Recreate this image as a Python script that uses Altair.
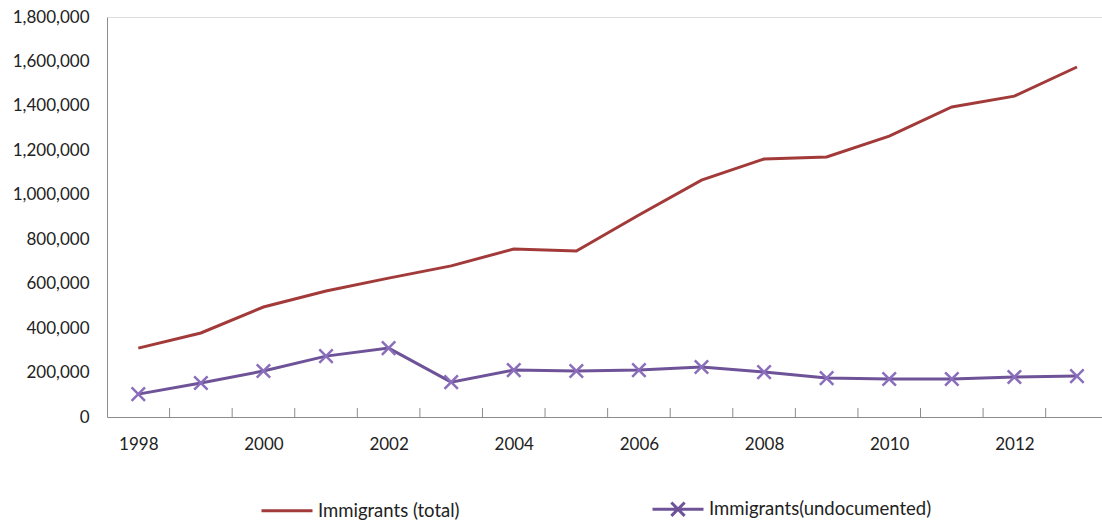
import altair as alt
import pandas as pd

# Yearly immigrant counts, 1998-2013
years = list(range(1998, 2014))
total = [310000, 378000, 495000, 567000, 625000, 680000, 756000, 747000,
         909000, 1066000, 1161000, 1170000, 1264000, 1395000, 1444000, 1575000]
undocumented = [103000, 153000, 207000, 274000, 310000, 157000, 211000, 207000,
                211000, 225000, 202000, 175000, 171000, 171000, 180000, 184000]

series_names = ["Immigrants (total)", "Immigrants(undocumented)"]
series_colors = ["#A33A3A", "#6E5398"]

rows = []
for name, vals in zip(series_names, [total, undocumented]):
    for y, v in zip(years, vals):
        rows.append({"year": y, "series": name, "value": v})
df = pd.DataFrame(rows)

# category boundaries for the x-axis tick marks
bounds = pd.DataFrame({"b": [y + 0.5 for y in years[:-1]]})

FONT = "Lato"
FS = 17
AXIS_GREY = "#8C8C8C"
TEXT = "#222222"

x_scale = alt.Scale(domain=[1997.5, 2013.4], nice=False, zero=False)
y_scale = alt.Scale(domain=[0, 1800000], nice=False)

x_enc = alt.X(
    "year:Q", scale=x_scale,
    axis=alt.Axis(values=[1998, 2000, 2002, 2004, 2006, 2008, 2010, 2012],
                  format="d", title=None, tickSize=0, labelPadding=19,
                  grid=False, domainColor=AXIS_GREY, labelFontSize=FS,
                  labelFont=FONT, labelColor=TEXT))
y_enc = alt.Y(
    "value:Q", scale=y_scale,
    axis=alt.Axis(values=list(range(0, 1800001, 200000)), format=",d",
                  title=None, tickSize=0, labelPadding=18, grid=False,
                  domainColor=AXIS_GREY, labelFontSize=FS, labelFont=FONT,
                  labelColor=TEXT))

legend_shape = ("datum.value === 'Immigrants (total)' ? 'M-1,0H1' : "
                "'M-1,0H1M-0.26,-0.26L0.26,0.26M-0.26,0.26L0.26,-0.26'")

lines = alt.Chart(df).mark_line(strokeWidth=3).encode(
    x=x_enc,
    y=y_enc,
    color=alt.Color(
        "series:N",
        scale=alt.Scale(domain=series_names, range=series_colors),
        legend=alt.Legend(
            title=None, orient="none", legendX=153, legendY=465,
            direction="horizontal", columnPadding=186, padding=0,
            labelFontSize=18.5, labelFont=FONT, labelColor=TEXT,
            labelLimit=500, labelOffset=4, symbolSize=2601,
            symbolStrokeWidth=3,
            symbolType=alt.ExprRef(expr=legend_shape))),
)

markers = alt.Chart(df).transform_filter(
    alt.datum.series == "Immigrants(undocumented)"
).mark_point(
    shape="M-1,-1L1,1M-1,1L1,-1", size=180, filled=False,
    strokeWidth=2.5, color="#8A6DBB", opacity=1
).encode(x="year:Q", y="value:Q")

ticks = alt.Chart(bounds).mark_rule(color=AXIS_GREY, strokeWidth=1).encode(
    x=alt.X("b:Q", scale=x_scale),
    y=alt.value(391),
    y2=alt.value(400),
)

chart = alt.layer(ticks, lines, markers).properties(
    width=995, height=400,
    autosize=alt.AutoSizeParams(type="none"),
    padding={"left": 107, "top": 17, "right": 0, "bottom": 105},
).configure_view(stroke=None).configure(background="white")

chart.save("out.html", embed_options={"renderer": "svg", "actions": False})
